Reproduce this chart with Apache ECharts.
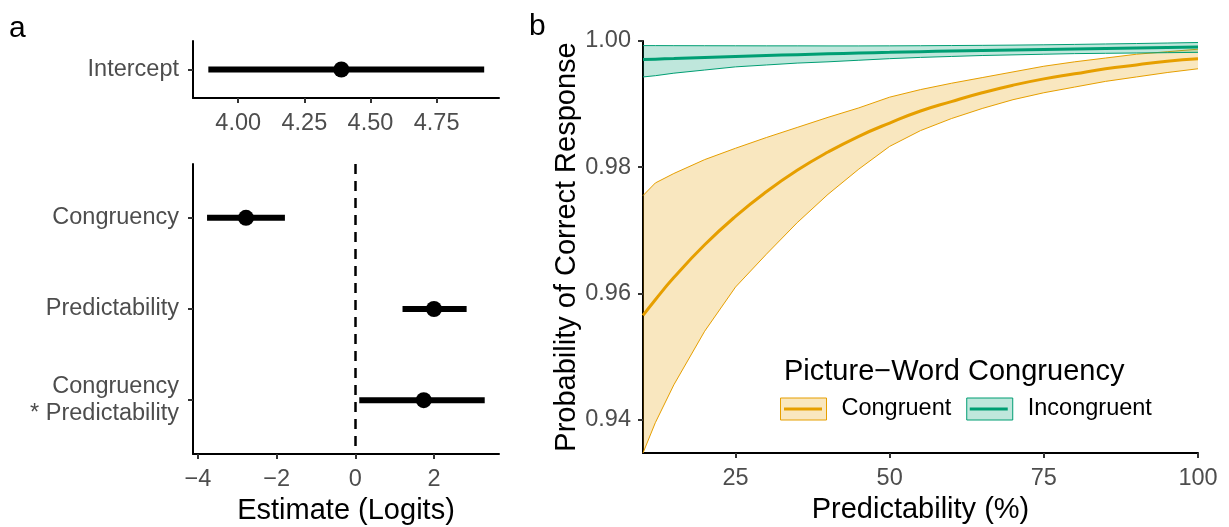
<!DOCTYPE html>
<html>
<head>
<meta charset="utf-8">
<script src="https://cdn.jsdelivr.net/npm/echarts@6/dist/echarts.min.js"></script>
<style>
  html, body { margin: 0; padding: 0; background: #fff; }
  #main { width: 1229px; height: 527px; }
</style>
</head>
<body>
<div id="main"></div>
<script>
// panel a: intercept
var interceptName = 'Intercept';
var interceptEst = 4.39;
var interceptLo = 3.887;
var interceptHi = 4.93;
var interceptTicks = [4.00, 4.25, 4.50, 4.75];

// panel a: coefficients
var terms = ['Congruency', 'Predictability', 'Congruency\n* Predictability'];
var termEst = [-2.78, 2.00, 1.74];
var termLo = [-3.77, 1.20, 0.10];
var termHi = [-1.79, 2.83, 3.29];
var termTicks = [-4, -2, 0, 2];

// panel b: predicted probabilities
var predictability = [10, 12, 15, 20, 25, 30, 35, 40, 45, 50, 55, 60, 65, 70, 75, 80, 85, 90, 95, 100];
var congruentFit = [0.9565, 0.9590, 0.9625, 0.9677, 0.9722, 0.9761, 0.9795, 0.9824, 0.9849, 0.9870, 0.9889, 0.9904, 0.9918, 0.9930, 0.9940, 0.9948, 0.9956, 0.9962, 0.9968, 0.9972];
var congruentUpper = [0.9755, 0.9775, 0.9790, 0.9812, 0.9830, 0.9847, 0.9863, 0.9879, 0.9894, 0.9911, 0.9923, 0.9933, 0.9942, 0.9951, 0.9960, 0.9967, 0.9973, 0.9979, 0.9983, 0.9987];
var congruentLower = [0.9347, 0.9395, 0.9455, 0.9540, 0.9610, 0.9662, 0.9712, 0.9757, 0.9797, 0.9833, 0.9858, 0.9877, 0.9893, 0.9907, 0.9918, 0.9927, 0.9936, 0.9943, 0.9950, 0.9956];
var incongruentFit = [0.99705, 0.99712, 0.99722, 0.99740, 0.99756, 0.99770, 0.99784, 0.99797, 0.99809, 0.99820, 0.99831, 0.99841, 0.99850, 0.99859, 0.99867, 0.99875, 0.99883, 0.99890, 0.99898, 0.99905];
var incongruentUpper = [0.99927, 0.99927, 0.99926, 0.99925, 0.99924, 0.99923, 0.99923, 0.99922, 0.99922, 0.99923, 0.99925, 0.99928, 0.99931, 0.99935, 0.99940, 0.99946, 0.99953, 0.99960, 0.99968, 0.99976];
var incongruentLower = [0.9943, 0.9945, 0.9949, 0.9954, 0.9959, 0.9962, 0.9965, 0.9967, 0.99695, 0.9972, 0.9974, 0.99755, 0.9977, 0.9978, 0.9979, 0.9980, 0.99805, 0.9981, 0.99815, 0.9982];
var xTicks = [25, 50, 75, 100];
var yTicks = [0.94, 0.96, 0.98, 1.00];

var ORANGE = '#E69F00';
var GREEN = '#009E73';
var ORANGE_FILL = 'rgba(230,159,0,0.25)';
var GREEN_FILL = 'rgba(0,158,115,0.25)';
var FONT = 'Liberation Sans, Arial, sans-serif';
var tickText = { fontSize: 23.5, color: '#4D4D4D', fontFamily: FONT };
var titleText = { fontSize: 29, color: '#000', fontFamily: FONT };
// legend key line: 3px bar in a 46x22 box
var KEY_LINE = 'path://M0,0M4,9.5L42,9.5L42,12.5L4,12.5ZM46,22';

function pairs(xs, ys) {
    return xs.map(function (x, i) { return [x, ys[i]]; });
}
function minusSign(v) {
    return v < 0 ? '\u2212' + (-v) : String(v);
}

function tickStyle(values, extra) {
    return Object.assign({ show: true, length: 5, customValues: values, lineStyle: { color: '#333', width: 2 } }, extra || {});
}
function labelStyle(values, formatter, extra) {
    return Object.assign({ margin: 14, customValues: values, formatter: formatter }, tickText, extra || {});
}

function axisBase(extra) {
    var base = {
        axisLine: { show: true, onZero: false, lineStyle: { color: '#000', width: 2 } },
        splitLine: { show: false },
        nameTextStyle: titleText
    };
    return Object.assign(base, extra);
}

function errorBar(params, api) {
    var a = api.coord([api.value(0), api.value(2)]);
    var b = api.coord([api.value(1), api.value(2)]);
    return {
        type: 'line',
        shape: { x1: a[0], y1: a[1], x2: b[0], y2: b[1] },
        style: { stroke: '#000', lineWidth: 6 }
    };
}

// whole ribbon drawn once, from rows [x, lower, upper]
function ribbon(xs, lo, hi, fill, edge) {
    return function (params, api) {
        if (params.dataIndex !== 0) return null;
        var top = xs.map(function (x, i) { return api.coord([x, hi[i]]); });
        var bottom = xs.map(function (x, i) { return api.coord([x, lo[i]]); });
        var poly = top.concat(bottom.slice().reverse());
        return {
            type: 'group',
            children: [
                { type: 'polygon', shape: { points: poly }, style: { fill: fill } },
                { type: 'polyline', shape: { points: top }, style: { stroke: edge, lineWidth: 1, fill: null } },
                { type: 'polyline', shape: { points: bottom }, style: { stroke: edge, lineWidth: 1, fill: null } }
            ]
        };
    };
}

var myChart = echarts.init(document.getElementById('main'), null, { renderer: 'canvas' });

var option = {
    animation: false,
    backgroundColor: '#fff',
    textStyle: { fontFamily: FONT },
    title: [
        { text: 'a', left: 9, top: 14, padding: 0, textStyle: { fontSize: 30, fontWeight: 'normal', color: '#000', fontFamily: FONT } },
        { text: 'b', left: 529, top: 12, padding: 0, textStyle: { fontSize: 30, fontWeight: 'normal', color: '#000', fontFamily: FONT } },
        { text: 'Picture\u2212Word Congruency', left: 779, top: 352, textStyle: { fontSize: 29, fontWeight: 'normal', color: '#000', fontFamily: FONT } }
    ],
    grid: [
        { left: 193, top: 41, width: 306, height: 57, outerBoundsMode: 'none' },
        { left: 193, top: 164, width: 306, height: 290, outerBoundsMode: 'none' },
        { left: 643, top: 41, width: 555, height: 412, outerBoundsMode: 'none' }
    ],
    legend: [
        {
            left: 780, top: 397, padding: 0, itemWidth: 46, itemHeight: 22, itemGap: 15,
            selectedMode: false,
            data: [
                { name: 'Congruent', icon: 'rect', itemStyle: { color: ORANGE_FILL, borderColor: ORANGE, borderWidth: 1 } },
                { name: 'Incongruent', icon: 'rect', itemStyle: { color: GREEN_FILL, borderColor: GREEN, borderWidth: 1 } }
            ],
            textStyle: { fontSize: 23.5, color: '#000', fontFamily: FONT, padding: [0, 0, 0, 10] }
        },
        {
            left: 780, top: 397, padding: 0, itemWidth: 46, itemHeight: 22, itemGap: 15,
            selectedMode: false,
            data: [
                { name: 'Congruent', icon: KEY_LINE, itemStyle: { color: ORANGE, borderWidth: 0 } },
                { name: 'Incongruent', icon: KEY_LINE, itemStyle: { color: GREEN, borderWidth: 0 } }
            ],
            textStyle: { fontSize: 23.5, color: 'transparent', fontFamily: FONT, padding: [0, 0, 0, 10] }
        }
    ],
    xAxis: [
        axisBase({
            gridIndex: 0, type: 'value', min: 3.829, max: 4.986,
            axisLabel: labelStyle(interceptTicks, function (v) { return v.toFixed(2); }),
            axisTick: tickStyle(interceptTicks)
        }),
        axisBase({
            gridIndex: 1, type: 'value', min: -4.127, max: 3.653,
            name: 'Estimate (Logits)', nameLocation: 'middle', nameGap: 42,
            axisLabel: labelStyle(termTicks, minusSign),
            axisTick: tickStyle(termTicks)
        }),
        axisBase({
            gridIndex: 2, type: 'value', min: 10, max: 100,
            name: 'Predictability (%)', nameLocation: 'middle', nameGap: 42,
            axisLabel: labelStyle(xTicks, null),
            axisTick: tickStyle(xTicks)
        })
    ],
    yAxis: [
        axisBase({
            gridIndex: 0, type: 'category', data: [interceptName],
            axisTick: { show: true, length: 5, alignWithLabel: true, lineStyle: { color: '#333', width: 2 } },
            axisLabel: Object.assign({ margin: 14 }, tickText)
        }),
        axisBase({
            gridIndex: 1, type: 'value', min: -0.59, max: 2.59, inverse: true,
            axisLabel: labelStyle([0, 1, 2], function (v) { return terms[v]; }, { lineHeight: 27, align: 'right' }),
            axisTick: tickStyle([0, 1, 2])
        }),
        axisBase({
            gridIndex: 2, type: 'value', min: 0.9347, max: 1.0,
            name: 'Probability of Correct Response', nameLocation: 'middle', nameGap: 62, nameRotate: 90,
            axisLabel: labelStyle(yTicks, function (v) { return v.toFixed(2); }, { margin: 12 }),
            axisTick: tickStyle(yTicks)
        })
    ],
    series: [
        {
            type: 'custom', xAxisIndex: 0, yAxisIndex: 0, renderItem: errorBar,
            encode: { x: [0, 1], y: 2 },
            data: [[interceptLo, interceptHi, interceptName]], silent: true
        },
        {
            type: 'scatter', xAxisIndex: 0, yAxisIndex: 0, symbolSize: 16,
            itemStyle: { color: '#000', opacity: 1 }, silent: true,
            data: [[interceptEst, interceptName]]
        },
        {
            type: 'custom', xAxisIndex: 1, yAxisIndex: 1, renderItem: errorBar,
            encode: { x: [0, 1], y: 2 },
            data: terms.map(function (t, i) { return [termLo[i], termHi[i], i]; }), silent: true
        },
        {
            type: 'scatter', xAxisIndex: 1, yAxisIndex: 1, symbolSize: 16,
            itemStyle: { color: '#000', opacity: 1 }, silent: true,
            data: terms.map(function (t, i) { return [termEst[i], i]; }),
            markLine: {
                silent: true, symbol: ['none', 'none'], label: { show: false },
                lineStyle: { color: '#000', width: 2.5, type: [10, 7] },
                data: [{ xAxis: 0 }]
            }
        },
        // ribbons
        {
            name: 'congruentCI', type: 'custom', xAxisIndex: 2, yAxisIndex: 2, silent: true,
            renderItem: ribbon(predictability, congruentLower, congruentUpper, ORANGE_FILL, ORANGE),
            encode: { x: 0, y: [1, 2] },
            data: predictability.map(function (x, i) { return [x, congruentLower[i], congruentUpper[i]]; })
        },
        {
            name: 'incongruentCI', type: 'custom', xAxisIndex: 2, yAxisIndex: 2, silent: true,
            renderItem: ribbon(predictability, incongruentLower, incongruentUpper, GREEN_FILL, GREEN),
            encode: { x: 0, y: [1, 2] },
            data: predictability.map(function (x, i) { return [x, incongruentLower[i], incongruentUpper[i]]; })
        },
        {
            name: 'Congruent', type: 'line', xAxisIndex: 2, yAxisIndex: 2,
            showSymbol: false, symbol: 'none', smooth: true, silent: true,
            color: ORANGE, lineStyle: { color: ORANGE, width: 3 },
            data: pairs(predictability, congruentFit)
        },
        {
            name: 'Incongruent', type: 'line', xAxisIndex: 2, yAxisIndex: 2,
            showSymbol: false, symbol: 'none', smooth: true, silent: true,
            color: GREEN, lineStyle: { color: GREEN, width: 3 },
            data: pairs(predictability, incongruentFit)
        }
    ]
};

myChart.setOption(option);
</script>
</body>
</html>
